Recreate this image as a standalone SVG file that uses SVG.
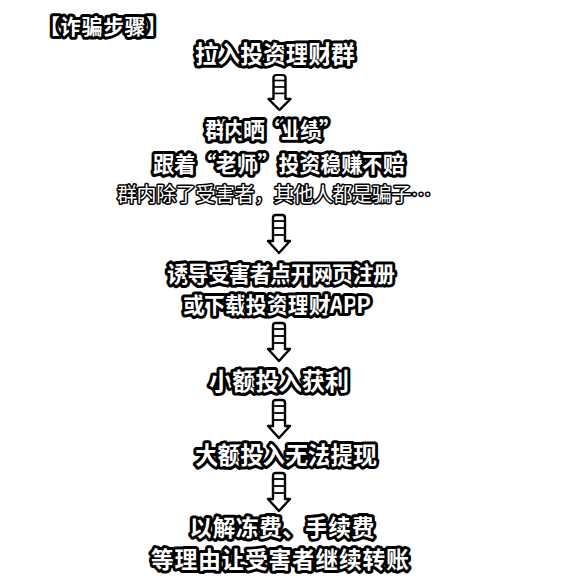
<svg xmlns="http://www.w3.org/2000/svg" width="574" height="585" viewBox="0 0 574 585">
<style>
.t{font-family:"Noto Sans CJK SC","Noto Sans",sans-serif;font-weight:bold;fill:#fff;stroke:#000;stroke-width:6;stroke-linejoin:round;paint-order:stroke;text-anchor:middle}
.s{font-weight:normal;stroke-width:3}
.ttl{text-anchor:start}
.arr path{fill:#fff;stroke:#000;stroke-width:2.4;stroke-linejoin:round}
.arr line{stroke:#000;stroke-width:1.8}
</style>
<defs>
<g id="arrow" class="arr">
<path d="M-6,3 Q-6,0 -3,0 L3,0 Q6,0 6,3 L6,26 L11,26 L0,38 L-11,26 L-6,26 Z"/>
<line x1="-6" y1="6" x2="6" y2="6"/>
<line x1="-6" y1="13" x2="6" y2="13"/>
<line x1="-6" y1="20" x2="6" y2="20"/>
</g>
</defs>
<rect width="574" height="585" fill="#fff"/>
<g id="title"><text class="t ttl" x="39" y="34" font-size="21" textLength="128" lengthAdjust="spacing">【诈骗步骤】</text></g>
<g id="n1"><text class="t" x="275" y="63" font-size="24" textLength="160">拉入投资理财群</text></g>
<g id="n2">
<text class="t" x="273" y="138" font-size="22" textLength="136">群内晒“业绩”</text>
<text class="t" x="279" y="172" font-size="22" textLength="252">跟着“老师”投资稳赚不赔</text>
<text class="t s" x="274" y="202" font-size="20" textLength="314">群内除了受害者，其他人都是骗子…</text>
</g>
<g id="n3">
<text class="t" x="281" y="282" font-size="22" textLength="228">诱导受害者点开网页注册</text>
<text class="t" x="277" y="313" font-size="22" textLength="188">或下载投资理财APP</text>
</g>
<g id="n4"><text class="t" x="279" y="390" font-size="24" textLength="140">小额投入获利</text></g>
<g id="n5"><text class="t" x="286" y="464" font-size="24" textLength="182">大额投入无法提现</text></g>
<g id="n6">
<text class="t" x="282" y="536" font-size="23" textLength="185">以解冻费、手续费</text>
<text class="t" x="280" y="568" font-size="23" textLength="258">等理由让受害者继续转账</text>
</g>
<g id="connectors">
<use href="#arrow" transform="translate(279.5,75) scale(1,0.92)"/>
<use href="#arrow" transform="translate(279,215)"/>
<use href="#arrow" transform="translate(279,323)"/>
<use href="#arrow" transform="translate(279,400)"/>
<use href="#arrow" transform="translate(279,473)"/>
</g>
</svg>
